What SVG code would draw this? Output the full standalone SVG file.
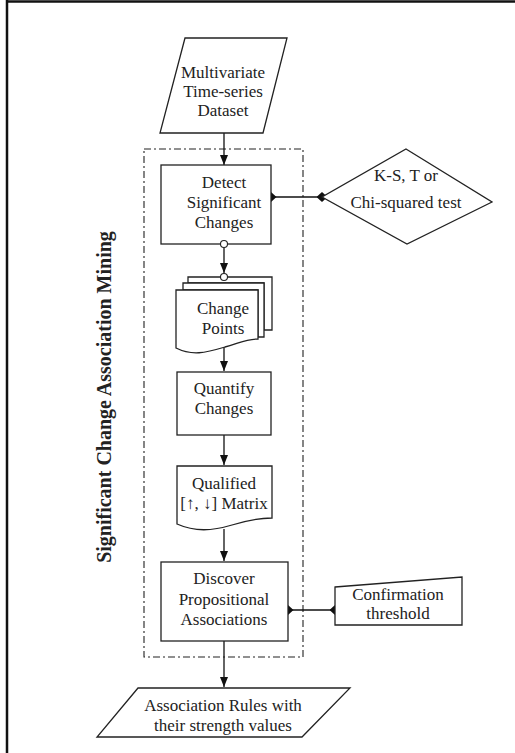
<svg xmlns="http://www.w3.org/2000/svg" width="515" height="753" viewBox="0 0 515 753">
<style>
  .shape { fill: #fff; stroke: #222; stroke-width: 1.3; }
  .t { font-size: 17px; fill: #222; text-anchor: middle; }
  .line { stroke: #111; stroke-width: 1.3; fill: none; }
</style>
<defs>
  <marker id="arrow" viewBox="0 0 10 10" refX="10" refY="5" markerWidth="10" markerHeight="10" markerUnits="userSpaceOnUse" orient="auto">
    <path d="M0,1 L10,5 L0,9 Z" fill="#111"/>
  </marker>
  <marker id="dia" viewBox="0 0 10 10" refX="5" refY="5" markerWidth="11" markerHeight="11" markerUnits="userSpaceOnUse" orient="auto">
    <path d="M0,5 L5,0.5 L10,5 L5,9.5 Z" fill="#111"/>
  </marker>
</defs>
<rect width="515" height="753" fill="#fff"/>
<g id="frame">
  <line x1="7" y1="0" x2="7" y2="753" stroke="#111" stroke-width="2.5"/>
  <line x1="6" y1="1.5" x2="515" y2="1.5" stroke="#111" stroke-width="2.5"/>
</g>
<g font-family="Liberation Serif, Times New Roman, serif">
<g id="group-boundary">
  <rect x="144" y="149" width="159" height="508" fill="none" stroke="#222" stroke-width="1.1" stroke-dasharray="7,3,2,3"/>
  <text class="t" font-weight="bold" font-size="20" transform="translate(111,397) rotate(-90)" style="font-size:20px">Significant Change Association Mining</text>
</g>
<g id="connectors">
  <line class="line" x1="224" y1="133" x2="224" y2="165" marker-end="url(#arrow)"/>
  <line class="line" x1="271" y1="197" x2="322" y2="197" marker-start="url(#dia)" marker-end="url(#dia)"/>
  <line class="line" x1="224" y1="247.5" x2="224" y2="273" marker-end="url(#arrow)"/>
  <line class="line" x1="224" y1="340" x2="224" y2="371" marker-end="url(#arrow)"/>
  <line class="line" x1="224" y1="435" x2="224" y2="465" marker-end="url(#arrow)"/>
  <line class="line" x1="224" y1="529" x2="224" y2="561" marker-end="url(#arrow)"/>
  <line class="line" x1="288" y1="610" x2="335" y2="610" marker-start="url(#dia)" marker-end="url(#dia)"/>
  <line class="line" x1="224" y1="641" x2="224" y2="687" marker-end="url(#arrow)"/>
</g>
<g id="dataset">
  <polygon class="shape" points="185,38 287,38 263,133 160,133"/>
  <text class="t" x="223" y="78">Multivariate</text>
  <text class="t" x="223" y="97">Time-series</text>
  <text class="t" x="223" y="116">Dataset</text>
</g>
<g id="detect">
  <rect class="shape" x="161" y="165" width="110" height="79"/>
  <text class="t" x="224" y="188">Detect</text>
  <text class="t" x="224" y="208">Significant</text>
  <text class="t" x="224" y="228">Changes</text>
  <circle cx="224" cy="244" r="3.5" fill="#fff" stroke="#222" stroke-width="1.1"/>
</g>
<g id="test">
  <polygon class="shape" points="406,149 492,202 407,244 322,197"/>
  <text class="t" x="406" y="181">K-S, T or</text>
  <text class="t" x="406" y="208">Chi-squared test</text>
</g>
<g id="change-points">
  <path class="shape" d="M188,277 H272 V330 H264 V283 H188 Z"/>
  <path class="shape" d="M183,283 H264 V337 H258 V290 H183 Z"/>
  <path class="shape" d="M176,290 H258 V339 C245,339 240,343 225,347 C205,353 192,356 176,348 Z"/>
  <circle cx="224" cy="277" r="3.5" fill="#fff" stroke="#222" stroke-width="1.1"/>
  <text class="t" x="223" y="314">Change</text>
  <text class="t" x="223" y="334">Points</text>
</g>
<g id="quantify">
  <rect class="shape" x="177" y="372" width="94" height="63"/>
  <text class="t" x="224" y="394">Quantify</text>
  <text class="t" x="224" y="414">Changes</text>
</g>
<g id="matrix">
  <path class="shape" d="M177,466 H272 V518 C258,518 248,520 232,525 C212,531 195,532 177,524 Z"/>
  <text class="t" x="224" y="489">Qualified</text>
  <text class="t" x="224" y="509">[↑, ↓] Matrix</text>
</g>
<g id="discover">
  <rect class="shape" x="161" y="562" width="127" height="79"/>
  <text class="t" x="224" y="584">Discover</text>
  <text class="t" x="224" y="605">Propositional</text>
  <text class="t" x="224" y="625">Associations</text>
</g>
<g id="threshold">
  <polygon class="shape" points="335,587 462,577 462,625 335,625"/>
  <text class="t" x="398" y="600">Confirmation</text>
  <text class="t" x="398" y="619">threshold</text>
</g>
<g id="rules">
  <polygon class="shape" points="138,688 350,688 302,737 97,737"/>
  <text class="t" x="223" y="711">Association Rules with</text>
  <text class="t" x="223" y="731">their strength values</text>
</g>
</g>
</svg>
